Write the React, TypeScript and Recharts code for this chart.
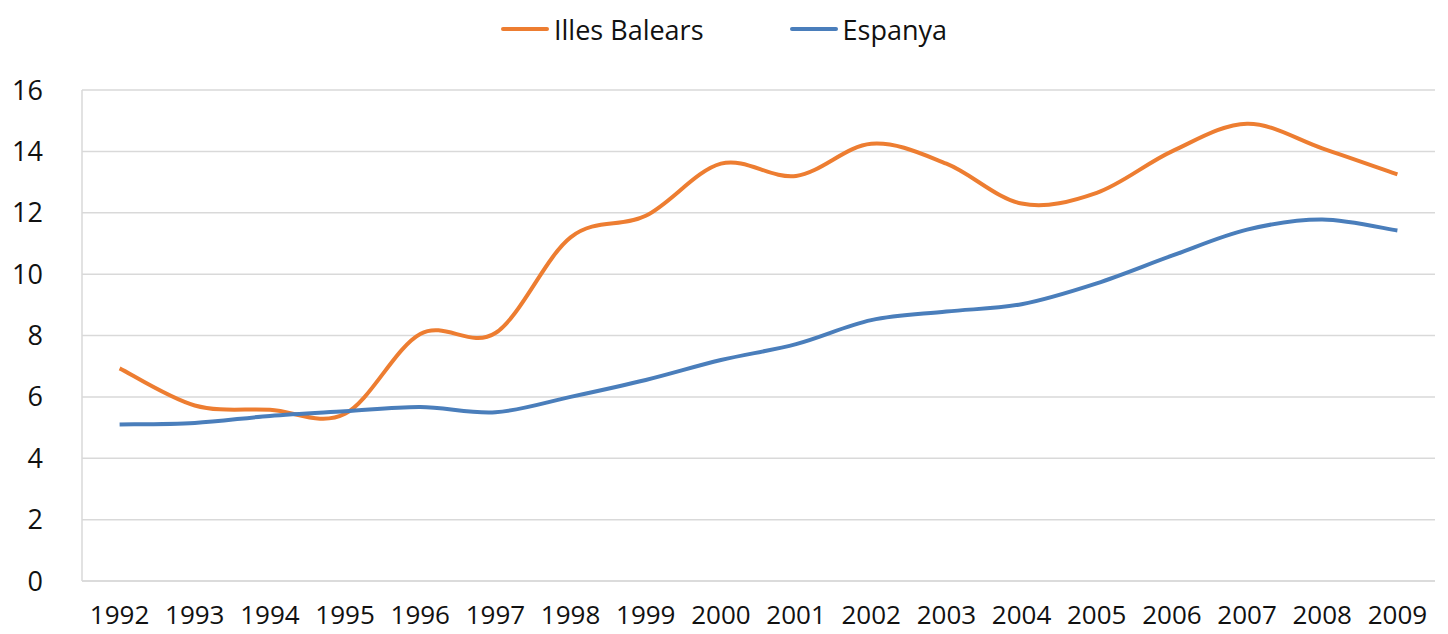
import React from "react";
import { LineChart, Line, XAxis, YAxis, CartesianGrid, Legend } from "recharts";

const years = ["1992", "1993", "1994", "1995", "1996", "1997", "1998", "1999", "2000", "2001", "2002", "2003", "2004", "2005", "2006", "2007", "2008", "2009"];
const balears = [6.93, 5.72, 5.58, 5.45, 8.05, 8.08, 11.2, 11.9, 13.6, 13.2, 14.25, 13.6, 12.3, 12.65, 14.0, 14.9, 14.1, 13.25];
const espanya = [5.1, 5.15, 5.38, 5.53, 5.67, 5.5, 6.0, 6.55, 7.2, 7.72, 8.5, 8.78, 9.02, 9.7, 10.6, 11.45, 11.78, 11.42];
const yTicks = [0, 2, 4, 6, 8, 10, 12, 14, 16];

const seriesNames = ["Illes Balears", "Espanya"];
const COLORS = ["#ED7D31", "#4A7EBB"];

const data = years.map((y, i) => ({ year: y, balears: balears[i], espanya: espanya[i] }));

const FONT = "'Open Sans', 'Noto Sans', sans-serif";

// Excel-like smoothing (Catmull-Rom through the points)
function smoothCurve(context: any) {
  let pts: number[][] = [];
  return {
    areaStart() {},
    areaEnd() {},
    lineStart() {
      pts = [];
    },
    point(x: number, y: number) {
      pts.push([+x, +y]);
    },
    lineEnd() {
      const n = pts.length;
      if (!n) return;
      context.moveTo(pts[0][0], pts[0][1]);
      for (let i = 0; i < n - 1; i++) {
        const p0 = pts[Math.max(i - 1, 0)];
        const p1 = pts[i];
        const p2 = pts[i + 1];
        const p3 = pts[Math.min(i + 2, n - 1)];
        context.bezierCurveTo(
          p1[0] + (p2[0] - p0[0]) / 6,
          p1[1] + (p2[1] - p0[1]) / 6,
          p2[0] - (p3[0] - p1[0]) / 6,
          p2[1] - (p3[1] - p1[1]) / 6,
          p2[0],
          p2[1]
        );
      }
    },
  };
}

const renderLegend = () => (
  <div style={{ display: "flex", justifyContent: "center", alignItems: "center", height: 34, fontFamily: FONT, fontSize: 27, color: "#111" }}>
    {seriesNames.map((name, i) => (
      <div key={name} style={{ display: "flex", alignItems: "center", marginLeft: i ? 86 : 0 }}>
        <div style={{ width: 48, height: 4, borderRadius: 2, background: COLORS[i], marginRight: 5 }} />
        <span>{name}</span>
      </div>
    ))}
  </div>
);

export default function App() {
  return (
    <div style={{ position: "absolute", left: 0, top: 0, background: "#fff" }}>
      <LineChart width={1448} height={634} data={data} margin={{ top: 56, right: 13, left: 0, bottom: 0 }}>
        <CartesianGrid vertical={false} stroke="#d9d9d9" strokeWidth={1.5} />
        <XAxis
          dataKey="year"
          axisLine={{ stroke: "#d9d9d9", strokeWidth: 1.5 }}
          tickLine={false}
          tickSize={0}
          tickMargin={25}
          height={53}
          interval={0}
          padding={{ left: 37.6, right: 37.6 }}
          tick={{ fill: "#111", fontSize: 26, fontFamily: FONT }}
        />
        <YAxis
          domain={[0, 16]}
          ticks={yTicks}
          width={82}
          axisLine={{ stroke: "#d9d9d9", strokeWidth: 1.5 }}
          tickLine={false}
          tickSize={0}
          tickMargin={39}
          tick={{ fill: "#111", fontSize: 27, fontFamily: FONT }}
        />
        <Legend verticalAlign="top" content={renderLegend} wrapperStyle={{ top: 12, left: 0, width: 1448 }} />
        <Line dataKey="balears" name={seriesNames[0]} type={smoothCurve as any} stroke={COLORS[0]} strokeWidth={4} dot={false} isAnimationActive={false} />
        <Line dataKey="espanya" name={seriesNames[1]} type={smoothCurve as any} stroke={COLORS[1]} strokeWidth={4} dot={false} isAnimationActive={false} />
      </LineChart>
    </div>
  );
}
